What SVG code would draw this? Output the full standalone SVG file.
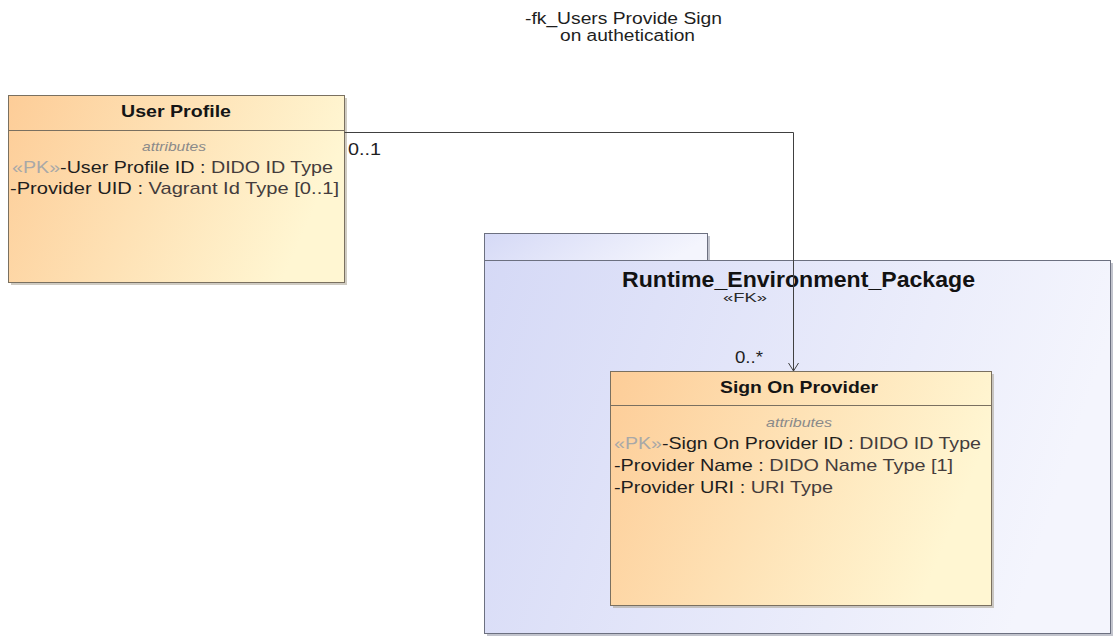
<svg xmlns="http://www.w3.org/2000/svg" width="1114" height="637" viewBox="0 0 1114 637">
<defs>
<linearGradient id="clsGrad" x1="0" y1="0" x2="1" y2="0.25">
<stop offset="0" stop-color="#fdcd98"/>
<stop offset="1" stop-color="#fff6d2"/>
</linearGradient>
<linearGradient id="pkgGrad" x1="0" y1="0" x2="1" y2="0.2">
<stop offset="0" stop-color="#d5d9f6"/>
<stop offset="1" stop-color="#f4f5fd"/>
</linearGradient>
<marker id="openArrow" markerWidth="14" markerHeight="12" refX="9" refY="6" orient="auto" markerUnits="userSpaceOnUse">
<path d="M1,1 L9,6 L1,11" fill="none" stroke="#404040" stroke-width="1"/>
</marker>
<style>
text{font-family:"Liberation Sans",Arial,sans-serif;}
.cls{fill:url(#clsGrad);stroke:#7a7060;stroke-width:1;}
.shadow{fill:#a8a090;opacity:0.55;}
.pkg{fill:url(#pkgGrad);stroke:#6c7080;stroke-width:1;}
.pkgshadow{fill:#9a9cab;opacity:0.6;}
.sep{stroke:#7a7060;stroke-width:1;}
.title{font-weight:bold;font-size:17px;fill:#151515;}
.attrhdr{font-style:italic;font-size:13px;fill:#8a8a8a;}
.attr{font-size:17px;fill:#1e1e1e;}
.stereo{fill:#a8a8a8;}
.type{fill:#443c3c;}
.label{font-size:16px;fill:#1e1e1e;}
.conn{fill:none;stroke:#404040;stroke-width:1;}
</style>
</defs>
<rect width="1114" height="637" fill="#ffffff"/>

<g id="pkg-runtime">
<rect class="pkgshadow" x="487" y="236" width="223" height="27"/>
<rect class="pkgshadow" x="487" y="263" width="626" height="373"/>
<rect class="pkg" x="484.5" y="233.5" width="223" height="27"/>
<rect class="pkg" x="484.5" y="260.5" width="626" height="373"/>
<text x="622" y="287" font-size="22" font-weight="bold" fill="#121212" textLength="353" lengthAdjust="spacingAndGlyphs">Runtime_Environment_Package</text>
</g>

<g id="user-profile">
<rect class="shadow" x="11" y="98" width="336" height="187"/>
<rect class="cls" x="8.5" y="95.5" width="336" height="187"/>
<line class="sep" x1="8.5" y1="130.5" x2="344.5" y2="130.5"/>
<text class="title" x="121" y="117" textLength="110" lengthAdjust="spacingAndGlyphs">User Profile</text>
<text class="attrhdr" x="142" y="151" textLength="64" lengthAdjust="spacingAndGlyphs">attributes</text>
<text class="attr" x="12" y="173" textLength="321" lengthAdjust="spacingAndGlyphs"><tspan class="stereo">«PK»</tspan>-User Profile ID : <tspan class="type">DIDO ID Type</tspan></text>
<text class="attr" x="10" y="194" textLength="329" lengthAdjust="spacingAndGlyphs">-Provider UID : <tspan class="type">Vagrant Id Type [0..1]</tspan></text>
</g>

<g id="sign-on-provider">
<rect class="shadow" x="613" y="374" width="381" height="234"/>
<rect class="cls" x="610.5" y="371.5" width="381" height="234"/>
<line class="sep" x1="610.5" y1="405.5" x2="991.5" y2="405.5"/>
<text class="title" x="720" y="393" textLength="158" lengthAdjust="spacingAndGlyphs">Sign On Provider</text>
<text class="attrhdr" x="766" y="427" textLength="66" lengthAdjust="spacingAndGlyphs">attributes</text>
<text class="attr" x="614" y="449" textLength="367" lengthAdjust="spacingAndGlyphs"><tspan class="stereo">«PK»</tspan>-Sign On Provider ID : <tspan class="type">DIDO ID Type</tspan></text>
<text class="attr" x="614" y="471" textLength="339" lengthAdjust="spacingAndGlyphs">-Provider Name : <tspan class="type">DIDO Name Type [1]</tspan></text>
<text class="attr" x="614" y="493" textLength="219" lengthAdjust="spacingAndGlyphs">-Provider URI : <tspan class="type">URI Type</tspan></text>
</g>

<g id="connectors">
<path class="conn" d="M344.5,132.5 H793.5 V371" marker-end="url(#openArrow)"/>
<text class="label" x="525" y="24" textLength="197" lengthAdjust="spacingAndGlyphs">-fk_Users Provide Sign</text>
<text class="label" x="560" y="41" textLength="135" lengthAdjust="spacingAndGlyphs">on authetication</text>
<text class="label" x="348" y="155" textLength="33" lengthAdjust="spacingAndGlyphs">0..1</text>
<text class="label" x="735" y="363" textLength="28" lengthAdjust="spacingAndGlyphs">0..*</text>
<text x="723" y="302" font-size="13" fill="#2a2a2a" textLength="44" lengthAdjust="spacingAndGlyphs">«FK»</text>
</g>
</svg>
